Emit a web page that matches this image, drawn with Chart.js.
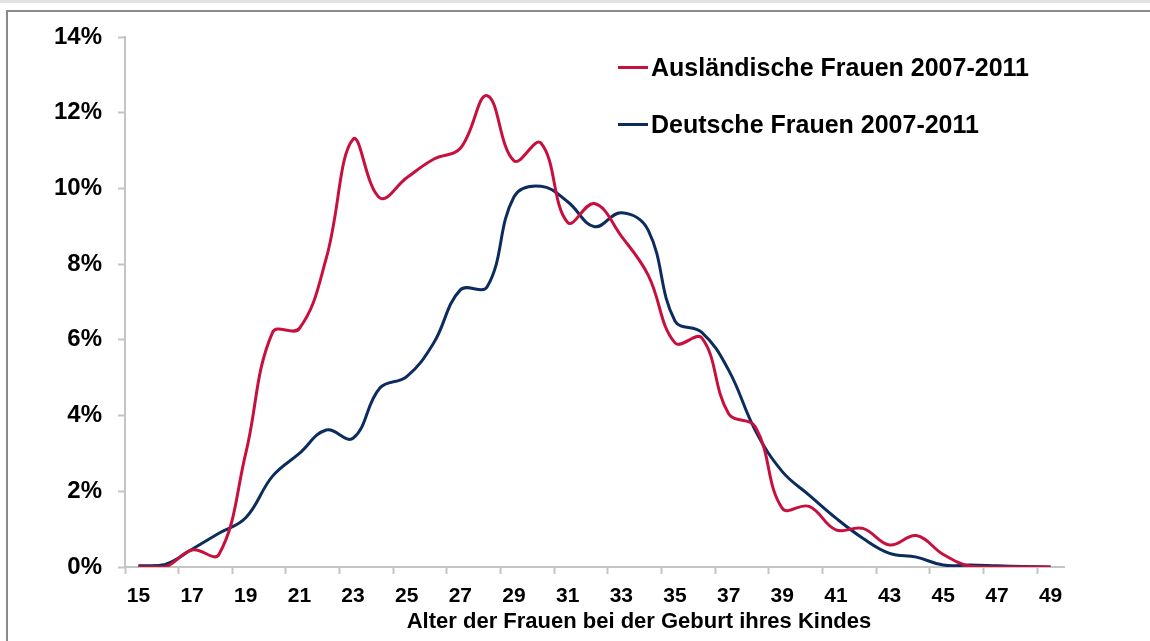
<!DOCTYPE html>
<html lang="de">
<head>
<meta charset="utf-8">
<title>Alter der Frauen bei der Geburt ihres Kindes</title>
<script src="https://cdn.jsdelivr.net/npm/chart.js@4.4.1/dist/chart.umd.min.js"></script>
<style>
    html, body { margin: 0; padding: 0; background: #fff; overflow: hidden; }
    body { width: 1150px; height: 641px; position: relative; font-family: "Liberation Sans", Arial, sans-serif; }
    #band { position: absolute; left: 0; top: 0; width: 1150px; height: 3px; background: #e3e3e3; }
    #frame { position: absolute; left: 6px; top: 10px; width: 1200px; height: 700px;
             border-left: 2px solid #8a8a8a; border-top: 2px solid #8a8a8a; }
    #wrap { position: absolute; left: 0; top: 0; width: 1150px; height: 641px; }
    #legend { position: absolute; left: 618px; top: 50px; }
    .item { display: flex; align-items: center; height: 34px; margin-bottom: 23px;
            font-weight: bold; font-size: 25px; color: #000; white-space: nowrap; }
    .swatch { width: 30px; height: 3px; margin-right: 3px; }
    #xtitle { position: absolute; left: 639px; top: 608px; transform: translateX(-50%);
              font-weight: bold; font-size: 22px; color: #000; white-space: nowrap; }
</style>
</head>
<body>
<div id="band"></div>
<div id="frame"></div>
<div id="wrap"><canvas id="chart"></canvas></div>
<div id="legend"></div>
<div id="xtitle">Alter der Frauen bei der Geburt ihres Kindes</div>
<script>
// Alter (Jahre)
const ages = ['15','16','17','18','19','20','21','22','23','24','25','26','27','28','29','30','31','32',
              '33','34','35','36','37','38','39','40','41','42','43','44','45','46','47','48','49'];

// Anteil der Geburten in %
const auslaendisch = [0.0, 0.0, 0.45, 0.33, 3.0, 6.2, 6.3, 8.15, 11.3, 9.75, 10.28, 10.77, 11.06, 12.45,
                      10.73, 11.2, 9.1, 9.6, 8.74, 7.71, 5.92, 6.05, 4.05, 3.7, 1.55, 1.6, 0.98, 1.02,
                      0.58, 0.83, 0.33, 0.02, 0.0, 0.0, 0.0];
const deutsch = [0.03, 0.07, 0.47, 0.89, 1.3, 2.4, 3.0, 3.62, 3.4, 4.73, 5.03, 5.91, 7.32, 7.4,
                 9.78, 10.06, 9.65, 8.99, 9.36, 8.9, 6.5, 6.2, 5.2, 3.6, 2.52, 1.9, 1.29, 0.76,
                 0.36, 0.26, 0.05, 0.05, 0.03, 0.01, 0.0];

const yTicks = [0, 2, 4, 6, 8, 10, 12, 14];

const axisGrey = '#c4c4c4';
const fontFamily = '"Liberation Sans", Arial, sans-serif';

const datasets = [
    { label: 'Ausländische Frauen 2007-2011', data: auslaendisch, borderColor: '#c8103e' },
    { label: 'Deutsche Frauen 2007-2011', data: deutsch, borderColor: '#0c2c5e' }
].map(d => Object.assign(d, { borderWidth: 3, pointRadius: 0, fill: false, tension: 0.4 }));

const chart = new Chart(document.getElementById('chart').getContext('2d'), {
    type: 'line',
    data: { labels: ages, datasets: datasets },
    options: {
        responsive: true,
        maintainAspectRatio: false,
        animation: false,
        layout: { padding: { top: 37, right: 86, left: 0, bottom: 0 } },
        plugins: { legend: { display: false }, tooltip: { enabled: false } },
        scales: {
            x: {
                type: 'category',
                offset: true,
                afterFit: s => { s.height = 74; },
                border: { color: axisGrey, width: 2 },
                grid: {
                    offset: true,
                    drawOnChartArea: false,
                    tickLength: 7,
                    tickWidth: 2,
                    tickColor: c => (c.index % 2 === 0 ? axisGrey : 'rgba(0,0,0,0)')
                },
                ticks: {
                    autoSkip: false,
                    maxRotation: 0,
                    padding: 10,
                    color: '#000',
                    font: { family: fontFamily, size: 21, weight: 'bold' },
                    callback: (v, i) => (i % 2 === 0 ? ages[i] : '')
                }
            },
            y: {
                min: 0,
                max: 14,
                afterFit: s => { s.width = 125; },
                afterBuildTicks: s => { s.ticks = yTicks.map(v => ({ value: v })); },
                border: { color: axisGrey, width: 2 },
                grid: { drawOnChartArea: false, tickLength: 7, tickWidth: 2, tickColor: axisGrey },
                ticks: {
                    padding: 16,
                    color: '#000',
                    font: { family: fontFamily, size: 24, weight: 'bold' },
                    callback: v => v + '%'
                }
            }
        }
    }
});

// Legende aus den Datensätzen
const legend = document.getElementById('legend');
chart.data.datasets.forEach(ds => {
    const item = document.createElement('div');
    item.className = 'item';
    const sw = document.createElement('span');
    sw.className = 'swatch';
    sw.style.background = ds.borderColor;
    const txt = document.createElement('span');
    txt.textContent = ds.label;
    item.appendChild(sw);
    item.appendChild(txt);
    legend.appendChild(item);
});
</script>
</body>
</html>
